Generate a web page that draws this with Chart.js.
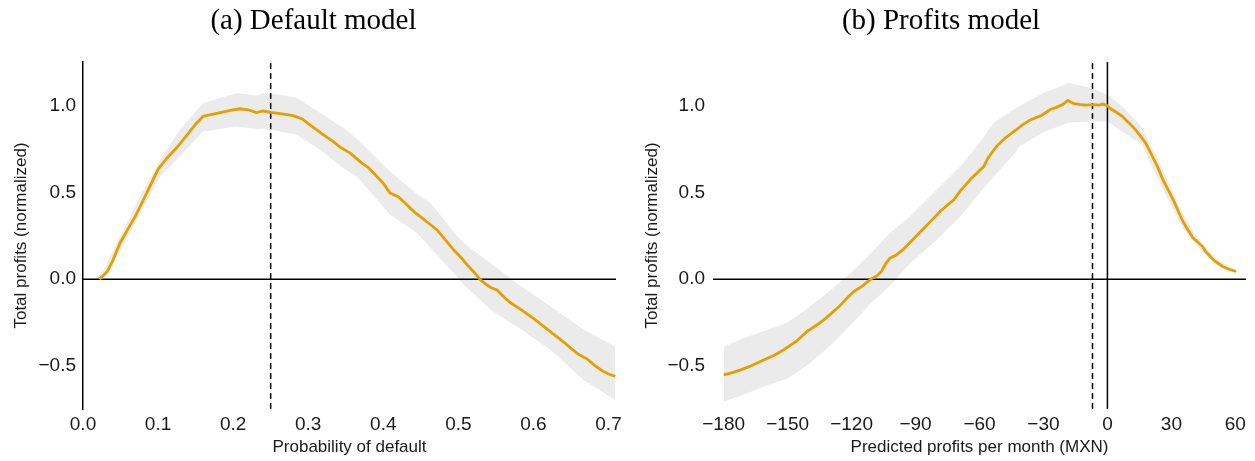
<!DOCTYPE html>
<html>
<head>
<meta charset="utf-8">
<script src="https://cdn.jsdelivr.net/npm/chart.js@4.4.1/dist/chart.umd.min.js"></script>
<style>
  body { margin: 0; background: #fff; }
  .panel { position: absolute; top: 0; }
  .title { position: absolute; top: 3px; width: 100%; text-align: center;
           font-family: "Liberation Serif", "Times New Roman", serif; font-size: 29px;
           line-height: 32px; color: #000; }
</style>
</head>
<body>
<div class="panel" style="left:0;width:627px;height:461px">
  <canvas id="left" width="627" height="461"></canvas>
  <div class="title">(a) Default model</div>
</div>
<div class="panel" style="left:627px;width:628px;height:461px">
  <canvas id="right" width="628" height="461"></canvas>
  <div class="title">(b) Profits model</div>
</div>
<script>
// ---- (a) default model ----
var defaultX = [0.022, 0.032, 0.040, 0.049, 0.060, 0.070, 0.076, 0.088, 0.100, 0.112, 0.125, 0.140,
  0.150, 0.160, 0.170, 0.183, 0.196, 0.209, 0.220, 0.231, 0.240, 0.250, 0.265, 0.280, 0.292, 0.305,
  0.320, 0.333, 0.343, 0.356, 0.372, 0.380, 0.390, 0.400, 0.409, 0.420, 0.430, 0.440, 0.463, 0.472,
  0.483, 0.494, 0.505, 0.512, 0.521, 0.529, 0.537, 0.543, 0.552, 0.560, 0.569, 0.585, 0.600, 0.620,
  0.640, 0.650, 0.660, 0.672, 0.682, 0.692, 0.700, 0.709];
var defaultY = [0.000, 0.042, 0.110, 0.206, 0.290, 0.365, 0.418, 0.525, 0.634, 0.700, 0.760, 0.840,
  0.895, 0.940, 0.950, 0.962, 0.974, 0.984, 0.978, 0.962, 0.971, 0.963, 0.955, 0.944, 0.925, 0.882,
  0.835, 0.795, 0.761, 0.728, 0.669, 0.645, 0.600, 0.553, 0.497, 0.476, 0.435, 0.393, 0.314, 0.283,
  0.225, 0.168, 0.118, 0.081, 0.040, -0.002, -0.030, -0.048, -0.064, -0.100, -0.135, -0.180, -0.227, -0.295,
  -0.362, -0.400, -0.434, -0.462, -0.500, -0.530, -0.548, -0.561];
var defaultBandX = [0.020, 0.030, 0.050, 0.075, 0.103, 0.129, 0.160, 0.205, 0.232, 0.240, 0.263, 0.285,
  0.316, 0.347, 0.365, 0.409, 0.445, 0.463, 0.498, 0.507, 0.543, 0.569, 0.578, 0.623, 0.667, 0.709];
var defaultUpper = [0.010, 0.075, 0.250, 0.470, 0.690, 0.863, 1.017, 1.075, 1.060, 1.075, 1.065, 1.046,
  0.960, 0.873, 0.810, 0.622, 0.490, 0.439, 0.250, 0.208, 0.092, 0.006, -0.025, -0.158, -0.293, -0.390];
var defaultLower = [-0.005, 0.020, 0.170, 0.370, 0.593, 0.709, 0.853, 0.882, 0.867, 0.870, 0.853, 0.834,
  0.747, 0.640, 0.593, 0.372, 0.266, 0.180, 0.015, -0.030, -0.177, -0.250, -0.274, -0.409, -0.582, -0.698];
var defaultTicksX = [0, 0.1, 0.2, 0.3, 0.4, 0.5, 0.6, 0.7];
var defaultCutoff = 0.25;

// ---- (b) profits model ----
var profitsX = [-180, -176, -172, -167, -161, -156, -152, -146, -141, -136, -132, -126, -122, -119,
  -115, -111, -108, -106, -104, -102, -99, -96, -91, -86, -82, -79, -74, -72, -69, -64, -58, -56, -52,
  -48, -43, -40, -36, -31, -27, -24, -21, -18.5, -16, -12, -10, -7, -4, -2, 0, 1, 4, 7, 9, 11, 13,
  15, 18, 21, 24, 26, 31, 35, 37, 40, 44.7, 46, 50, 54, 57, 60.4];
var profitsY = [-0.553, -0.540, -0.524, -0.500, -0.466, -0.438, -0.409, -0.360, -0.303, -0.262, -0.225,
  -0.160, -0.108, -0.072, -0.040, 0.000, 0.020, 0.044, 0.090, 0.121, 0.140, 0.169, 0.232, 0.295, 0.345,
  0.385, 0.439, 0.458, 0.510, 0.580, 0.650, 0.700, 0.767, 0.815, 0.860, 0.890, 0.921, 0.945, 0.978,
  0.992, 1.008, 1.032, 1.015, 1.007, 1.005, 1.008, 1.005, 1.011, 1.002, 0.988, 0.965, 0.940,
  0.915, 0.892, 0.865, 0.834, 0.785, 0.712, 0.635, 0.574, 0.455, 0.343, 0.300, 0.240, 0.188, 0.160,
  0.108, 0.073, 0.057, 0.044];
var profitsBandX = [-180, -170, -160, -150, -140, -130, -120, -111, -102, -92.6, -80, -69, -60, -53.5,
  -44, -41, -30, -18, -8, 0, 7, 16, 26, 35, 44, 52, 60.4];
var profitsUpper = [-0.390, -0.338, -0.295, -0.250, -0.162, -0.065, 0.040, 0.150, 0.266, 0.362, 0.516,
  0.651, 0.786, 0.902, 0.979, 1.000, 1.075, 1.133, 1.104, 1.065, 0.998, 0.880, 0.632, 0.385, 0.205,
  0.110, 0.052];
var profitsLower = [-0.707, -0.665, -0.615, -0.575, -0.490, -0.385, -0.260, -0.140, -0.040, 0.092, 0.227,
  0.362, 0.497, 0.590, 0.720, 0.767, 0.850, 0.905, 0.911, 0.911, 0.853, 0.780, 0.520, 0.300, 0.165,
  0.085, 0.038];
var profitsTicksX = [-180, -150, -120, -90, -60, -30, 0, 30, 60];
var profitsCutoff = -7;

var yTicks = [-0.5, 0, 0.5, 1.0];
var yMin = -0.75, yMax = 1.254;

var ORANGE = '#E69F00';
var BAND = '#ebebeb';
var TICKFONT = { family: 'Liberation Sans, Arial, sans-serif', size: 19 };
var TITLEFONT = { family: 'Liberation Sans, Arial, sans-serif', size: 17 };

function pts(xs, ys) {
  return xs.map(function (x, i) { return { x: x, y: ys[i] }; });
}
function minus(s) { return s.replace('-', '\u2212'); }

function makeChart(id, cfg) {
  var datasets = [
    { data: pts(cfg.x, cfg.y), borderColor: ORANGE, borderWidth: 2.8 },
    { data: [{ x: cfg.xMin, y: 0 }, { x: cfg.xMax, y: 0 }], borderColor: '#000', borderWidth: 1.5 },
    { data: [{ x: cfg.cutoff, y: yMin }, { x: cfg.cutoff, y: yMax }], borderColor: '#000',
      borderWidth: 1.5, borderDash: [6, 4] }
  ];
  if (cfg.zeroLine) {
    datasets.push({ data: [{ x: 0, y: yMin }, { x: 0, y: yMax }], borderColor: '#000', borderWidth: 1.5 });
  }
  datasets.push(
    { data: pts(cfg.bandX, cfg.upper), borderWidth: 0, borderColor: BAND, backgroundColor: BAND,
      fill: '+1' },
    { data: pts(cfg.bandX, cfg.lower), borderWidth: 0, borderColor: BAND, backgroundColor: BAND,
      fill: false }
  );

  return new Chart(document.getElementById(id), {
    type: 'line',
    data: { datasets: datasets },
    options: {
      responsive: false,
      animation: false,
      events: [],
      elements: { point: { radius: 0 }, line: { tension: 0 } },
      layout: { padding: { top: 62, right: cfg.padRight, left: 0, bottom: 0 } },
      plugins: { legend: { display: false }, tooltip: { enabled: false } },
      scales: {
        x: {
          type: 'linear', min: cfg.xMin, max: cfg.xMax,
          grid: { display: false, drawTicks: false }, border: { display: false },
          afterBuildTicks: function (s) { s.ticks = cfg.ticks.map(function (v) { return { value: v }; }); },
          afterFit: function (s) { s.height = 52; },
          ticks: {
            color: '#1a1a1a', font: TICKFONT, padding: 4, maxRotation: 0, autoSkip: false,
            callback: function (v) { return minus(cfg.fmt(v)); }
          },
          title: { display: true, text: cfg.xTitle, color: '#1a1a1a', font: TITLEFONT,
                   padding: { top: 0, bottom: 3 } }
        },
        y: {
          type: 'linear', min: yMin, max: yMax,
          grid: { display: false, drawTicks: false },
          border: { display: cfg.yBorder, color: '#000', width: 1.5 },
          afterBuildTicks: function (s) { s.ticks = yTicks.map(function (v) { return { value: v }; }); },
          afterFit: function (s) { s.width = cfg.yWidth; },
          ticks: {
            color: '#1a1a1a', font: TICKFONT, padding: cfg.yPad,
            callback: function (v) { return minus(v.toFixed(1)); }
          },
          title: { display: true, text: 'Total profits (normalized)', color: '#1a1a1a', font: TITLEFONT,
                   padding: { top: cfg.yTitlePad, bottom: 0 } }
        }
      }
    }
  });
}

makeChart('left', {
  x: defaultX, y: defaultY, bandX: defaultBandX, upper: defaultUpper, lower: defaultLower,
  xMin: 0, xMax: 0.71, ticks: defaultTicksX, cutoff: defaultCutoff, zeroLine: false,
  fmt: function (v) { return v.toFixed(1); },
  xTitle: 'Probability of default', yBorder: true, yWidth: 83, yPad: 7, yTitlePad: 11.5, padRight: 11
});

makeChart('right', {
  x: profitsX, y: profitsY, bandX: profitsBandX, upper: profitsUpper, lower: profitsLower,
  xMin: -185, xMax: 65, ticks: profitsTicksX, cutoff: profitsCutoff, zeroLine: true,
  fmt: function (v) { return String(Math.round(v)); },
  xTitle: 'Predicted profits per month (MXN)', yBorder: false, yWidth: 86, yPad: 8, yTitlePad: 15, padRight: 9
});
</script>
</body>
</html>
